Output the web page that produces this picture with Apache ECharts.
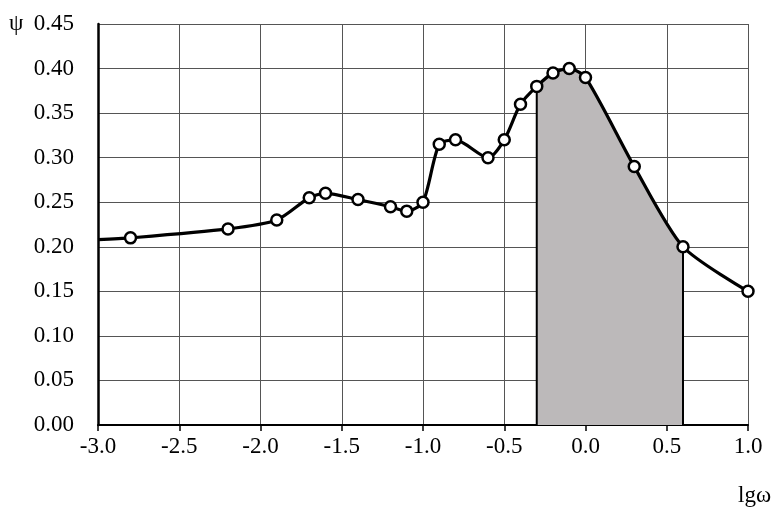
<!DOCTYPE html>
<html><head><meta charset="utf-8">
<script src="https://cdn.jsdelivr.net/npm/echarts@6/dist/echarts.min.js"></script>
<style>html,body{margin:0;padding:0;background:#fff}#c{width:783px;height:508px}</style>
</head><body><div id="c"></div>
<script>
const lgw = [-3.0, -2.8, -2.2, -1.9, -1.7, -1.6, -1.4, -1.2, -1.1, -1.0, -0.9, -0.8, -0.6, -0.5, -0.4, -0.3, -0.2, -0.1, 0.0, 0.3, 0.6, 1.0];
const psi = [0.208, 0.21, 0.22, 0.23, 0.255, 0.26, 0.253, 0.245, 0.24, 0.25, 0.315, 0.32, 0.30, 0.32, 0.36, 0.38, 0.395, 0.40, 0.39, 0.29, 0.20, 0.15];
const markerShown = [false, true, true, true, true, true, true, true, true, true, true, true, true, true, true, true, true, true, true, true, true, true];
const shadeFrom = -0.3, shadeTo = 0.6;
const yTicks = [0, 0.05, 0.10, 0.15, 0.20, 0.25, 0.30, 0.35, 0.40, 0.45];
const xTicks = [-3.0, -2.5, -2.0, -1.5, -1.0, -0.5, 0.0, 0.5, 1.0];

const font = 'Liberation Serif';
const smooth = 0.25;
const mainData = lgw.map((x, i) => ({value: [x, psi[i]], symbolSize: markerShown[i] ? 11 : 0}));
const shadeData = lgw.map((x, i) => [x, psi[i]]).filter(p => p[0] >= shadeFrom && p[0] <= shadeTo);
const psiAt = x => psi[lgw.indexOf(x)];

const chart = echarts.init(document.getElementById('c'));
chart.setOption({
  animation: false,
  backgroundColor: '#fff',
  grid: {left: 98, right: 35, top: 24, bottom: 83},
  xAxis: {
    type: 'value', min: xTicks[0], max: xTicks[xTicks.length - 1], interval: 0.5,
    axisLine: {show: true, onZero: false, lineStyle: {color: '#000', width: 2}},
    axisTick: {show: true, length: 6, lineStyle: {color: '#000', width: 1.5}},
    axisLabel: {color: '#000', fontFamily: font, fontSize: 23, margin: 10,
      formatter: v => v.toFixed(1)},
    splitLine: {show: true, lineStyle: {color: '#555', width: 1}}
  },
  yAxis: {
    type: 'value', min: yTicks[0], max: yTicks[yTicks.length - 1], interval: 0.05,
    axisLine: {show: true, onZero: false, lineStyle: {color: '#000', width: 2.5}},
    axisTick: {show: false},
    axisLabel: {color: '#000', fontFamily: font, fontSize: 23, margin: 24,
      formatter: v => v.toFixed(2)},
    splitLine: {show: true, lineStyle: {color: '#555', width: 1}}
  },
  graphic: [
    {type: 'text', left: 9, top: 12, style: {text: 'ψ', font: '23px ' + font, fill: '#000'}},
    {type: 'text', left: 738, top: 484, style: {text: 'lgω', font: '23px ' + font, fill: '#000'}}
  ],
  series: [
    {
      type: 'line', data: shadeData, smooth: smooth, symbol: 'none',
      lineStyle: {width: 0}, areaStyle: {color: '#bcb9ba', opacity: 1}, z: 1
    },
    {
      type: 'line', data: [[shadeFrom, 0], [shadeFrom, psiAt(shadeFrom)]], symbol: 'none',
      lineStyle: {color: '#000', width: 2}, z: 2
    },
    {
      type: 'line', data: [[shadeTo, 0], [shadeTo, psiAt(shadeTo)]], symbol: 'none',
      lineStyle: {color: '#000', width: 2}, z: 2
    },
    {
      type: 'line', data: mainData, smooth: smooth, symbol: 'circle',
      lineStyle: {color: '#000', width: 3.2},
      itemStyle: {color: '#fff', borderColor: '#000', borderWidth: 2.5}, z: 5
    }
  ]
});
</script></body></html>
